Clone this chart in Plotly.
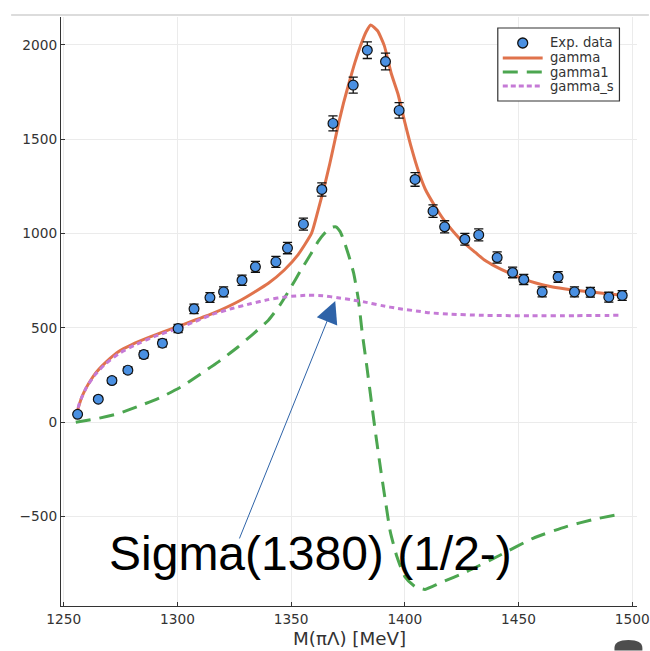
import plotly.graph_objects as go

# ---------------- data ----------------
exp_mass = [1256.1, 1265.2, 1271.2, 1278.2, 1285.2, 1293.4, 1300.3, 1307.3, 1314.3, 1320.3,
            1328.4, 1334.3, 1343.3, 1348.4, 1355.4, 1363.5, 1368.4, 1377.3, 1383.5, 1391.5,
            1397.5, 1404.5, 1412.4, 1417.5, 1426.4, 1432.5, 1440.6, 1447.4, 1452.3, 1460.4,
            1467.4, 1474.6, 1481.6, 1489.7, 1495.6]
exp_counts = [42, 122, 221, 276, 359, 419, 497, 601, 661, 691,
              753, 824, 850, 923, 1050, 1234, 1584, 1787, 1972, 1912,
              1653, 1287, 1119, 1036, 970, 993, 873, 794, 757, 691,
              770, 691, 689, 663, 672]
exp_err = [7, 11, 15, 17, 19, 20, 22, 25, 26, 26,
           27, 29, 29, 30, 32, 35, 40, 42, 44, 44,
           41, 36, 33, 32, 31, 32, 30, 28, 27, 26,
           28, 26, 26, 26, 26]

gamma_m = [1255.3, 1256.5, 1258, 1260, 1262, 1264, 1267, 1270, 1274, 1280, 1288, 1300, 1315,
           1328, 1340, 1347, 1353, 1359, 1362, 1364.6, 1367, 1369, 1371, 1373, 1375.5, 1378,
           1380.5, 1383, 1385, 1388, 1391, 1394, 1397, 1400, 1403, 1406, 1409, 1413, 1417,
           1421, 1426, 1431, 1435, 1440, 1446, 1452, 1458, 1464, 1470, 1476, 1482, 1488, 1495.5]
gamma_y = [30, 80, 135, 185, 225, 260, 300, 335, 374, 412, 452, 507, 574,
           648, 737, 807, 887, 1002, 1130, 1249, 1370, 1480, 1590, 1690, 1800, 1905,
           1995, 2070, 2106, 2075, 1995, 1850, 1740, 1590, 1450, 1330, 1235, 1150, 1075,
           1015, 950, 900, 860, 825, 790, 760, 737, 720, 708, 698, 690, 682, 673]

gamma1_m = [1255.3, 1265, 1274, 1283, 1293, 1302, 1310.5, 1318, 1326.6, 1333, 1340, 1345,
            1350, 1354, 1358.8, 1362, 1364.6, 1366.5, 1368.2, 1369.7, 1371.5, 1373.1, 1375.3,
            1377.5, 1379.6, 1381.2, 1383.3, 1385.5, 1387.5, 1389.5, 1391.5, 1393.6, 1396.5,
            1400, 1404.5, 1408.9, 1415.5, 1427.2, 1441.8, 1456.4, 1471, 1483, 1495.2]
gamma1_y = [0, 20, 46, 85, 134, 190, 258, 320, 399, 465, 541, 620,
            717, 800, 894, 960, 1000, 1022, 1034, 1036, 1012, 966, 885,
            790, 648, 480, 295, 90, -90, -260, -420, -580, -712,
            -818, -871, -886, -852, -792, -705, -615, -553, -515, -486]

gammas_m = [1255.3, 1257, 1260, 1264, 1268, 1274, 1281, 1290, 1300, 1308, 1315, 1324, 1332.5,
            1340, 1348, 1357, 1364, 1370.5, 1376, 1382, 1390, 1397, 1405, 1411, 1420, 1433,
            1455, 1475, 1495.5]
gammas_y = [30, 105, 185, 255, 305, 362, 408, 455, 497, 535, 570, 603, 629,
            650, 665, 673, 671, 660, 650, 638, 618, 603, 590, 580, 573, 567,
            564, 565, 567]

x_ticks = [1250, 1300, 1350, 1400, 1450, 1500]
y_ticks = [-500, 0, 500, 1000, 1500, 2000]

# ---------------- styling ----------------
C_DATA = "#4A90E2"
C_GAMMA = "#E0734C"
C_GAMMA1 = "#4CA650"
C_GAMMAS = "#C57AD6"
FONT = "DejaVu Sans"

# The photo squeezes the page slightly in width; compensate horizontally.
KX = 650 / 638.5
TW, TH = 650, 651
W, H = round(TW * KX), TH
PL, PR, PT, PB = 60, 637.6, 17, 606          # plot box in target pixels


def px(xp):
    return (xp - PL) / (PR - PL)


def py(yp):
    return (PB - yp) / (PB - PT)


fig = go.Figure()

fig.add_trace(go.Scatter(x=gamma_m, y=gamma_y, mode="lines", name="gamma",
                         line=dict(color=C_GAMMA, width=3, shape="spline", smoothing=0.5),
                         showlegend=False))
fig.add_trace(go.Scatter(x=gamma1_m, y=gamma1_y, mode="lines", name="gamma1",
                         line=dict(color=C_GAMMA1, width=3, dash="15px,9px",
                                   shape="spline", smoothing=0.5),
                         showlegend=False))
fig.add_trace(go.Scatter(x=gammas_m, y=gammas_y, mode="lines", name="gamma_s",
                         line=dict(color=C_GAMMAS, width=3, dash="5px,4px",
                                   shape="spline", smoothing=0.5),
                         showlegend=False))
fig.add_trace(go.Scatter(x=exp_mass, y=exp_counts, mode="markers", name="Exp. data",
                         marker=dict(size=9.8, color=C_DATA,
                                     line=dict(color="#111", width=1.2)),
                         error_y=dict(type="data", array=exp_err, color="#111",
                                      thickness=1.3, width=4.6),
                         showlegend=False))

axis_common = dict(
    showgrid=True, gridcolor="#EBEBEB", gridwidth=1,
    showline=True, linecolor="#333", linewidth=1.3,
    ticks="inside", ticklen=4, tickcolor="#333", tickwidth=1,
    tickfont=dict(family=FONT, size=13.7, color="#333"),
    zeroline=False, mirror=False,
)

fig.update_layout(
    width=W, height=H,
    margin=dict(l=PL * KX, r=W - PR * KX, t=PT, b=H - PB),
    paper_bgcolor="white", plot_bgcolor="white",
    showlegend=False,
    xaxis=dict(range=[1248.8, 1502.1], tickvals=x_ticks, **axis_common),
    yaxis=dict(range=[-974, 2148], tickvals=y_ticks, **axis_common),
)

shapes = []
# top border line of the screenshot
shapes.append(dict(type="line", xref="paper", yref="paper",
                   x0=px(10), x1=px(649.5), y0=py(15), y1=py(15),
                   line=dict(color="#DCDCDC", width=2)))
# bottom-right icon
shapes.append(dict(type="path", xref="paper", yref="paper",
                   path=(f"M {px(615)},{py(650.5)} L {px(615)},{py(648)} "
                         f"Q {px(615)},{py(640)} {px(629)},{py(640)} "
                         f"Q {px(643)},{py(640)} {px(643)},{py(648)} "
                         f"L {px(643)},{py(650.5)} Z"),
                   fillcolor="#4D4D4D", line=dict(width=0)))

# manual legend
shapes.append(dict(type="rect", xref="paper", yref="paper",
                   x0=px(498), x1=px(620), y0=py(28), y1=py(101),
                   fillcolor="white", line=dict(color="#333", width=1.2)))
shapes.append(dict(type="circle", xref="paper", yref="paper",
                   x0=px(518), x1=px(528), y0=py(38), y1=py(48),
                   fillcolor=C_DATA, line=dict(color="#111", width=1.3)))
shapes.append(dict(type="line", xref="paper", yref="paper",
                   x0=px(503), x1=px(543), y0=py(58), y1=py(58),
                   line=dict(color=C_GAMMA, width=3)))
shapes.append(dict(type="line", xref="paper", yref="paper",
                   x0=px(503), x1=px(543), y0=py(72), y1=py(72),
                   line=dict(color=C_GAMMA1, width=3, dash="15px,9px")))
shapes.append(dict(type="line", xref="paper", yref="paper",
                   x0=px(503), x1=px(543), y0=py(86), y1=py(86),
                   line=dict(color=C_GAMMAS, width=3, dash="5px,3px")))

annotations = []
for lbl, yy in [("Exp. data", 43), ("gamma", 58), ("gamma1", 72), ("gamma_s", 86)]:
    annotations.append(dict(text=lbl, xref="paper", yref="paper", x=px(548), y=py(yy),
                            xanchor="left", yanchor="middle", showarrow=False,
                            font=dict(family=FONT, size=13.2, color="#333")))

# x-axis title
annotations.append(dict(text="M(πΛ) [MeV]", xref="paper", yref="paper",
                        x=0.5, y=py(638.5), xanchor="center", yanchor="middle",
                        showarrow=False,
                        font=dict(family=FONT, size=18.3, color="#333")))

# arrow (text-less) pointing at the curve
annotations.append(dict(text="", x=1369.4, y=643, xref="x", yref="y",
                        ax=1327.0, ay=-624, axref="x", ayref="y",
                        showarrow=True, arrowhead=2, arrowsize=4.4, arrowwidth=1,
                        arrowcolor="#2E63A8"))
# label text
annotations.append(dict(text="Sigma(1380) (1/2-)", xref="paper", yref="paper",
                        x=px(106), y=py(553), xanchor="left", yanchor="middle",
                        showarrow=False,
                        font=dict(family="Liberation Sans, Arial", size=48, color="black")))

fig.update_layout(shapes=shapes, annotations=annotations)

fig.write_html("out.html")
